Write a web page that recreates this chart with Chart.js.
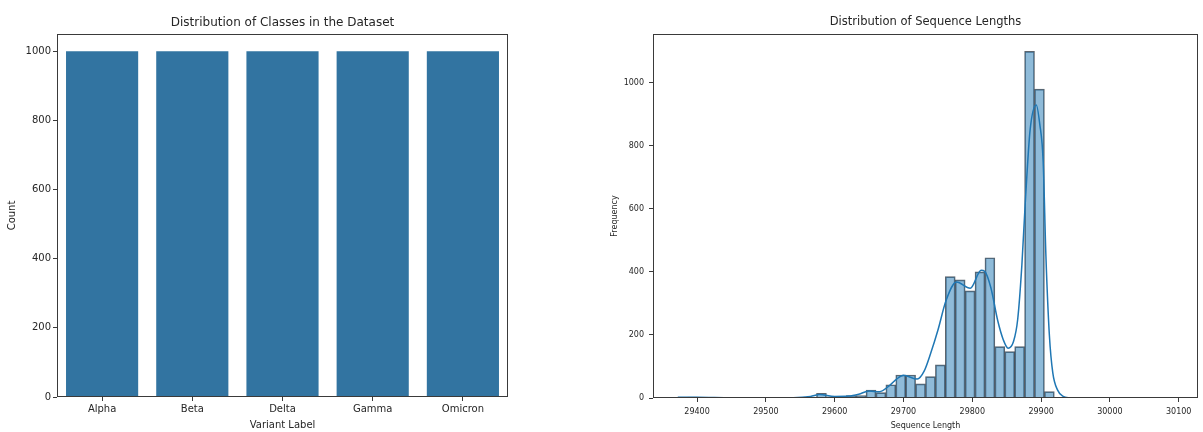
<!DOCTYPE html>
<html>
<head>
<meta charset="utf-8">
<script src="https://cdn.jsdelivr.net/npm/chart.js@4.4.1/dist/chart.umd.min.js"></script>
<style>
    html, body { margin: 0; padding: 0; background: #fff; }
    #wrap { position: relative; width: 1203px; height: 432px; }
    #classChart { position: absolute; left: 0; top: 0; }
    #lengthChart { position: absolute; left: 600px; top: 0; filter: blur(0.35px); }
</style>
</head>
<body>
<div id="wrap">
    <canvas id="classChart" width="600" height="432"></canvas>
    <canvas id="lengthChart" width="603" height="432"></canvas>
</div>
<script>
"use strict";

// クラス分布
const variantLabels = ["Alpha", "Beta", "Delta", "Gamma", "Omicron"];
const variantCounts = [1000, 1000, 1000, 1000, 1000];
const countTicks = [0, 200, 400, 600, 800, 1000];

// 配列長ヒストグラム（50ビン）
const binStart = 29372;
const binWidth = 14.4;
const binCounts = [
    2, 3, 1, 0, 1, 0, 0, 1, 0, 0,
    1, 0, 1, 3, 15, 4, 5, 8, 8, 25,
    17, 42, 73, 73, 45, 68, 105, 385, 375, 340,
    400, 445, 163, 147, 163, 1100, 980, 20, 0, 0,
    0, 0, 0, 1, 0, 0, 0, 1, 0, 1
];
const lengthTicks = [29400, 29500, 29600, 29700, 29800, 29900, 30000, 30100];
const freqTicks = [0, 200, 400, 600, 800, 1000];

// KDE曲線（件数換算）
const kdeX = [
    29372, 29400, 29450, 29500, 29540, 29565, 29578, 29600, 29620, 29635,
    29650, 29665, 29680, 29690, 29700, 29720, 29730, 29740, 29750, 29762,
    29777, 29797, 29813, 29818, 29827, 29837, 29845, 29852, 29860, 29866,
    29872, 29877, 29884, 29893, 29898, 29903, 29907, 29912, 29917, 29924,
    29932, 29940, 29960, 30000, 30050, 30092
];
const kdeY = [
    2, 2, 0.5, 0.5, 1, 5, 11, 5, 6, 12,
    22, 20, 40, 60, 72, 60, 85, 145, 215, 310,
    368, 348, 405, 402, 350, 245, 185, 158, 180, 250,
    420, 620, 850, 930, 870, 750, 450, 200, 80, 25,
    5, 1, 0.5, 0.5, 0.5, 0.5
];

const textColor = "#262626";
const spineColor = "#3a3a3a";
const fontFamily = "'DejaVu Sans', sans-serif";

// 軸の枠線とタイトル（プロット領域の中央に描く）
const framePlugin = {
    id: "frame",
    afterDraw(chart, args, opts) {
        const { ctx, chartArea: a } = chart;
        ctx.save();
        ctx.strokeStyle = spineColor;
        ctx.lineWidth = 1;
        const l = Math.round(a.left) + 0.5;
        const t = Math.round(a.top) + 0.5;
        const r = Math.round(a.right) - 0.5;
        const b = Math.round(a.bottom) - 0.5;
        ctx.strokeRect(l, t, r - l, b - t);

        ctx.fillStyle = textColor;
        ctx.font = `${opts.size}px ${fontFamily}`;
        ctx.textAlign = "center";
        ctx.textBaseline = "middle";
        ctx.fillText(opts.text, (a.left + a.right) / 2, opts.y);
        ctx.restore();
    }
};

const plainTick = v => String(v);

// 左：クラス別件数
new Chart(document.getElementById("classChart"), {
    type: "bar",
    data: {
        labels: variantLabels,
        datasets: [{
            data: variantCounts,
            backgroundColor: "#3274a1",
            borderWidth: 0,
            barPercentage: 0.8,
            categoryPercentage: 1.0
        }]
    },
    options: {
        responsive: false,
        animation: false,
        layout: { padding: { left: 0, right: 92, top: 34, bottom: 0 } },
        plugins: {
            legend: { display: false },
            tooltip: { enabled: false },
            frame: { text: "Distribution of Classes in the Dataset", size: 12, y: 22.5 }
        },
        scales: {
            x: {
                offset: true,
                border: { display: false },
                grid: { offset: false, drawOnChartArea: false, drawTicks: true, tickLength: 4, color: spineColor },
                ticks: { color: textColor, font: { family: fontFamily, size: 10 }, padding: 2, maxRotation: 0 },
                title: {
                    display: true,
                    text: "Variant Label",
                    color: textColor,
                    font: { family: fontFamily, size: 10 },
                    padding: { top: 0, bottom: 1 }
                },
                afterFit: s => { s.height = 35; }
            },
            y: {
                min: 0,
                max: 1050,
                border: { display: false },
                grid: { drawOnChartArea: false, drawTicks: true, tickLength: 4, color: spineColor },
                ticks: { color: textColor, font: { family: fontFamily, size: 10 }, padding: 2, callback: plainTick },
                afterBuildTicks: s => { s.ticks = countTicks.map(v => ({ value: v })); },
                title: {
                    display: true,
                    text: "Count",
                    color: textColor,
                    font: { family: fontFamily, size: 10 },
                    padding: { top: 6, bottom: 0 }
                },
                afterFit: s => { s.width = 57; }
            }
        }
    },
    plugins: [framePlugin]
});

// 右：配列長のヒストグラム + KDE
const histPoints = binCounts.map((c, i) => ({ x: binStart + binWidth * (i + 0.5), y: c }));
const kdePoints = kdeX.map((x, i) => ({ x: x, y: kdeY[i] }));

new Chart(document.getElementById("lengthChart"), {
    type: "bar",
    data: {
        datasets: [
            {
                type: "line",
                data: kdePoints,
                borderColor: "#1f77b4",
                borderWidth: 1.5,
                pointRadius: 0,
                fill: false,
                cubicInterpolationMode: "monotone",
                order: 0
            },
            {
                data: histPoints,
                backgroundColor: "rgba(31,119,180,0.5)",
                borderColor: "rgba(40,50,60,0.75)",
                borderWidth: 1,
                barPercentage: 1.0,
                categoryPercentage: 1.0,
                grouped: false,
                order: 1
            }
        ]
    },
    options: {
        responsive: false,
        animation: false,
        layout: { padding: { left: 0, right: 5, top: 34, bottom: 0 } },
        plugins: {
            legend: { display: false },
            tooltip: { enabled: false },
            frame: { text: "Distribution of Sequence Lengths", size: 11.5, y: 22.5 }
        },
        scales: {
            x: {
                type: "linear",
                min: 29336,
                max: 30128,
                offset: false,
                border: { display: false },
                grid: { offset: false, drawOnChartArea: false, drawTicks: true, tickLength: 4, color: spineColor },
                ticks: { color: textColor, font: { family: fontFamily, size: 8 }, padding: 5, maxRotation: 0, callback: plainTick },
                afterBuildTicks: s => { s.ticks = lengthTicks.map(v => ({ value: v })); },
                title: {
                    display: true,
                    text: "Sequence Length",
                    color: textColor,
                    font: { family: fontFamily, size: 8 },
                    padding: { top: 0, bottom: 1 }
                },
                afterFit: s => { s.height = 34; }
            },
            y: {
                min: 0,
                max: 1155,
                border: { display: false },
                grid: { drawOnChartArea: false, drawTicks: true, tickLength: 4, color: spineColor },
                ticks: { color: textColor, font: { family: fontFamily, size: 8 }, padding: 5, callback: plainTick },
                afterBuildTicks: s => { s.ticks = freqTicks.map(v => ({ value: v })); },
                title: {
                    display: true,
                    text: "Frequency",
                    color: textColor,
                    font: { family: fontFamily, size: 8 },
                    padding: { top: 10, bottom: 0 }
                },
                afterFit: s => { s.width = 53; }
            }
        }
    },
    plugins: [framePlugin]
});
</script>
</body>
</html>
